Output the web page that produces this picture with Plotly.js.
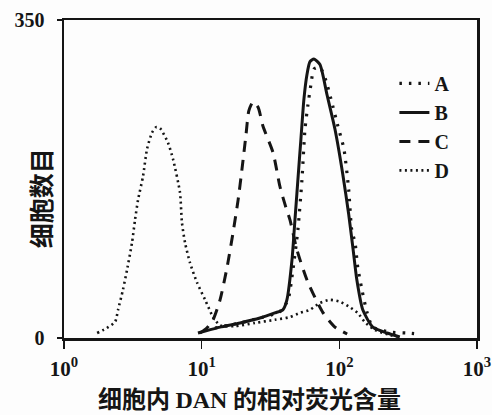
<!DOCTYPE html>
<html><head><meta charset="utf-8">
<script src="https://cdn.plot.ly/plotly-3.0.1.min.js"></script>
<style>html,body{margin:0;padding:0;background:#fff;}</style>
</head><body><div id="chart" style="width:492px;height:415px;"></div>
<script>
// Relative fluorescence (x) and cell counts (y)
const seriesNames = ['A', 'B', 'C', 'D'];

const xA = [12.5, 19.0, 26.5, 37.0, 42.4, 46.0, 50.0, 53.5, 56.3, 59.2, 62.2, 65.4, 72.3, 80.0, 86.9, 97.7, 108, 117, 123, 130, 136, 146, 159, 175, 233, 310, 372];
const yA = [11, 16.6, 22, 29, 42, 75, 119, 174, 230, 257, 279, 296, 298, 283, 263, 233, 208, 163, 119, 105, 78, 53, 28, 12, 6.6, 5.5, 4.4];

const xB = [9.4, 10.6, 13.6, 19.0, 26.5, 34.0, 38.9, 41.6, 45.3, 47.6, 50.0, 52.6, 55.3, 58.2, 61.1, 65.4, 72.3, 81.3, 92.9, 106, 117, 126, 134, 148, 175, 222, 275];
const yB = [5.5, 7.7, 12, 16.6, 22, 27.6, 31, 42, 86, 130, 174, 219, 263, 290, 304, 307, 301, 268, 230, 180, 136, 97, 64, 31, 12, 5.5, 1.1];

const xC = [9.72, 10.9, 12.1, 13.6, 15.3, 16.9, 18.4, 19.6, 21.0, 22.0, 23.6, 25.7, 27.9, 33.0, 37.0, 40.3, 43.8, 49.2, 59.2, 76.0, 92.9, 114];
const yC = [5.5, 11, 20, 42, 78, 116, 152, 185, 224, 250, 260, 254, 233, 204, 167, 147, 130, 97, 61, 28, 12, 4.4];

const xD = [1.74, 2.05, 2.35, 2.47, 2.68, 2.87, 3.12, 3.28, 3.45, 3.75, 4.01, 4.36, 4.66, 4.98, 5.69, 6.19, 6.96, 7.19, 7.57, 8.22, 9.25, 10.6, 12.1, 13.6, 17.5, 24.4, 34.0, 43.7, 51.7, 61.1, 72.3, 85.5, 101, 119, 136, 153, 181, 233, 275];
const yD = [5.5, 11, 17.7, 31, 53, 75, 105, 130, 152, 178, 208, 226, 232, 231, 215, 197, 160, 127, 105, 83, 61, 42, 23, 14, 13, 16.6, 20, 23, 27.6, 31, 38.6, 42, 40, 34, 27.6, 17.7, 8.8, 3.3, 1.1];

const xTickVals = [1, 10, 100, 1000];
const xTickText = ['10<sup>0</sup>', '10<sup>1</sup>', '10<sup>2</sup>', '10<sup>3</sup>'];
const yTickVals = [0, 350];
const yTickText = ['0', '350'];

const ink = '#151515';
const serif = 'Liberation Serif, Times New Roman, serif';
const cjk = 'Noto Sans CJK SC, sans-serif';

const traces = [
  {x: xA, y: yA, name: seriesNames[0], mode: 'lines', line: {color: ink, width: 3.2, dash: '2.5px,7px', shape: 'spline', smoothing: 0.6}},
  {x: xB, y: yB, name: seriesNames[1], mode: 'lines', line: {color: ink, width: 3, shape: 'spline', smoothing: 0.6}},
  {x: xC, y: yC, name: seriesNames[2], mode: 'lines', line: {color: ink, width: 3, dash: '11px,8px', shape: 'spline', smoothing: 0.6}},
  {x: xD, y: yD, name: seriesNames[3], mode: 'lines', line: {color: ink, width: 2.6, dash: '2px,3.5px', shape: 'spline', smoothing: 0.6}}
];

const layout = {
  width: 492, height: 415,
  margin: {l: 64, r: 15, t: 20, b: 77},
  paper_bgcolor: '#fdfdfd', plot_bgcolor: '#fdfdfd',
  showlegend: true,
  legend: {x: 0.80, y: 0.862, xanchor: 'left', yanchor: 'top', bgcolor: 'rgba(0,0,0,0)',
           font: {family: serif, size: 20, color: ink, weight: 'bold'}, tracegroupgap: 0},
  xaxis: {type: 'log', range: [0, 3], tickvals: xTickVals, ticktext: xTickText,
          showgrid: false, zeroline: false, showline: true, linecolor: ink, linewidth: 2.5, mirror: true,
          ticks: 'outside', ticklen: 8, tickwidth: 1.5, tickcolor: ink,
          tickfont: {family: serif, size: 21, color: ink, weight: 'bold'}, ticklabelstandoff: 2},
  yaxis: {range: [0, 350], tickvals: yTickVals, ticktext: yTickText,
          showgrid: false, zeroline: false, showline: true, linecolor: ink, linewidth: 2.5, mirror: true,
          ticks: 'outside', ticklen: 5, tickwidth: 1.5, tickcolor: ink,
          tickfont: {family: serif, size: 20, color: ink, weight: 'bold'}, ticklabelstandoff: 8},
  annotations: [
    {text: '细胞数目', xref: 'paper', yref: 'paper', x: -0.058, y: 0.44, xanchor: 'center', yanchor: 'middle',
     textangle: -90, showarrow: false, font: {family: cjk, size: 25, color: ink, weight: 'bold'}},
    {text: '细胞内 <span style="font-family:Liberation Serif">DAN</span> 的相对荧光含量', xref: 'paper', yref: 'paper',
     x: 0.448, y: -0.188, xanchor: 'center', yanchor: 'middle', showarrow: false,
     font: {family: cjk, size: 24, color: ink, weight: 'bold'}}
  ]
};

Plotly.newPlot('chart', traces, layout, {displayModeBar: false, staticPlot: true});
</script></body></html>
